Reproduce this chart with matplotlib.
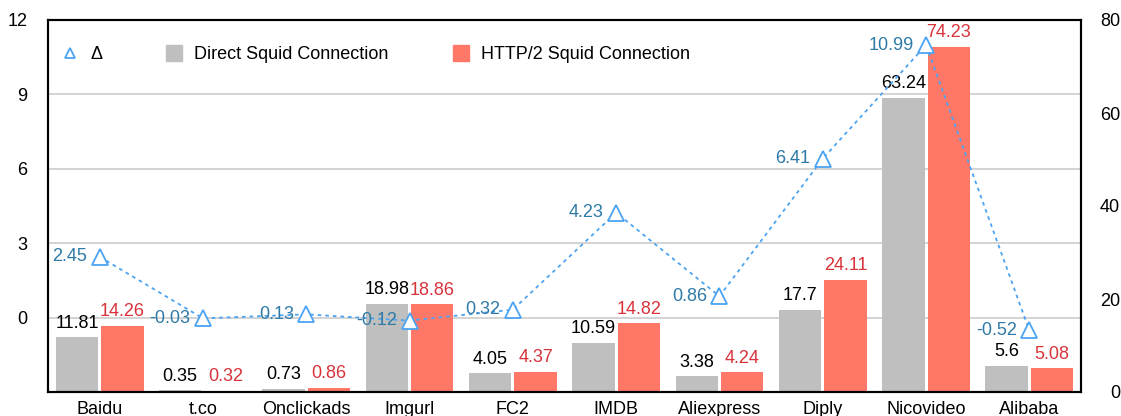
import numpy as np
import matplotlib
matplotlib.use('Agg')
import matplotlib.pyplot as plt
from matplotlib.lines import Line2D

plt.rcParams['font.family'] = ['Liberation Sans', 'DejaVu Sans']
plt.rcParams['font.size'] = 13

sites = ['Baidu', 't.co', 'Onclickads', 'Imgurl', 'FC2', 'IMDB',
         'Aliexpress', 'Diply', 'Nicovideo', 'Alibaba']
direct = [11.81, 0.35, 0.73, 18.98, 4.05, 10.59, 3.38, 17.7, 63.24, 5.6]
http2 = [14.26, 0.32, 0.86, 18.86, 4.37, 14.82, 4.24, 24.11, 74.23, 5.08]
delta = [2.45, -0.03, 0.13, -0.12, 0.32, 4.23, 0.86, 6.41, 10.99, -0.52]
direct_lbl = ['11.81', '0.35', '0.73', '18.98', '4.05', '10.59', '3.38', '17.7', '63.24', '5.6']
http2_lbl = ['14.26', '0.32', '0.86', '18.86', '4.37', '14.82', '4.24', '24.11', '74.23', '5.08']
delta_lbl = ['2.45', '-0.03', '0.13', '-0.12', '0.32', '4.23', '0.86', '6.41', '10.99', '-0.52']

gray = '#bfbfbf'
salmon = '#ff7766'
red_txt = '#d8333b'
blue_txt = '#2f7aa6'
line_c = '#4ba3f2'

fig = plt.figure(figsize=(11.21, 4.16), dpi=100)
ax = fig.add_axes([48/1121, 24/416, 1033/1121, 372/416])
axd = ax.twinx()

x = np.arange(len(sites))
w = 0.41
off = 0.22

# bars on the right-hand scale
ax.bar(x - off, direct, w, color=gray, zorder=2)
ax.bar(x + off, http2, w, color=salmon, zorder=2)
rlim = (0, 80)
ax.set_ylim(*rlim)
ax.set_xlim(-0.5, len(sites) - 0.5)
ax.set_yticks([0, 20, 40, 60, 80])

for xi, v, s in zip(x, direct, direct_lbl):
    ax.annotate(s, (xi - off, v), xytext=(0, 4), textcoords='offset points',
                ha='center', va='bottom', color='black', zorder=5)
for xi, v, s in zip(x, http2, http2_lbl):
    ax.annotate(s, (xi + off, v), xytext=(0, 4), textcoords='offset points',
                ha='center', va='bottom', color=red_txt, zorder=5)

# delta on the left-hand scale
llim = (-3, 12)
lticks = [0, 3, 6, 9, 12]
axd.set_ylim(*llim)
axd.set_yticks(lticks)

# gridlines at the left ticks, drawn behind the bars
grid_r = (np.array(lticks[:-1]) - llim[0]) / (llim[1] - llim[0]) * (rlim[1] - rlim[0]) + rlim[0]
ax.set_yticks(grid_r, minor=True)
ax.grid(True, which='minor', axis='y', color='#cccccc', lw=1.2, zorder=0)
ax.tick_params(axis='y', which='minor', length=0)

axd.plot(x, delta, color=line_c, lw=1.3, ls=(0, (2, 2.2)), marker='^',
         markersize=11, markerfacecolor='white', markeredgecolor=line_c,
         markeredgewidth=1.3, zorder=3)
for xi, v, s in zip(x, delta, delta_lbl):
    axd.annotate(s, (xi, v), xytext=(-9, 0), textcoords='offset points',
                 ha='right', va='center', color=blue_txt, zorder=5)

# axis sides: delta ticks on left, bar ticks on right
ax.yaxis.tick_right()
axd.yaxis.tick_left()
ax.tick_params(axis='y', which='major', length=0, pad=28)
for t in ax.get_yticklabels():
    t.set_horizontalalignment('right')
axd.tick_params(axis='y', length=0, pad=15)
ax.set_xticks(x)
ax.set_xticklabels(sites)
ax.tick_params(axis='x', length=0, pad=6.5)

for a in (ax, axd):
    for sp in a.spines.values():
        sp.set_color('black')
        sp.set_linewidth(1.5)

axd.set_zorder(ax.get_zorder() + 1)
axd.patch.set_visible(False)

handles = [
    Line2D([], [], ls='none', marker='^', markersize=7, markerfacecolor='white',
           markeredgecolor=line_c, markeredgewidth=1.3),
    Line2D([], [], ls='none', marker='s', markersize=11, color=gray),
    Line2D([], [], ls='none', marker='s', markersize=11, color=salmon),
]
axd.legend(handles, ['Δ', 'Direct Squid Connection', 'HTTP/2 Squid Connection'],
           loc='upper left', bbox_to_anchor=(-0.003, 0.974), ncol=3, frameon=False,
           handlelength=1.0, handletextpad=0.6, columnspacing=3.5)

fig.savefig('out.png', dpi=100)
